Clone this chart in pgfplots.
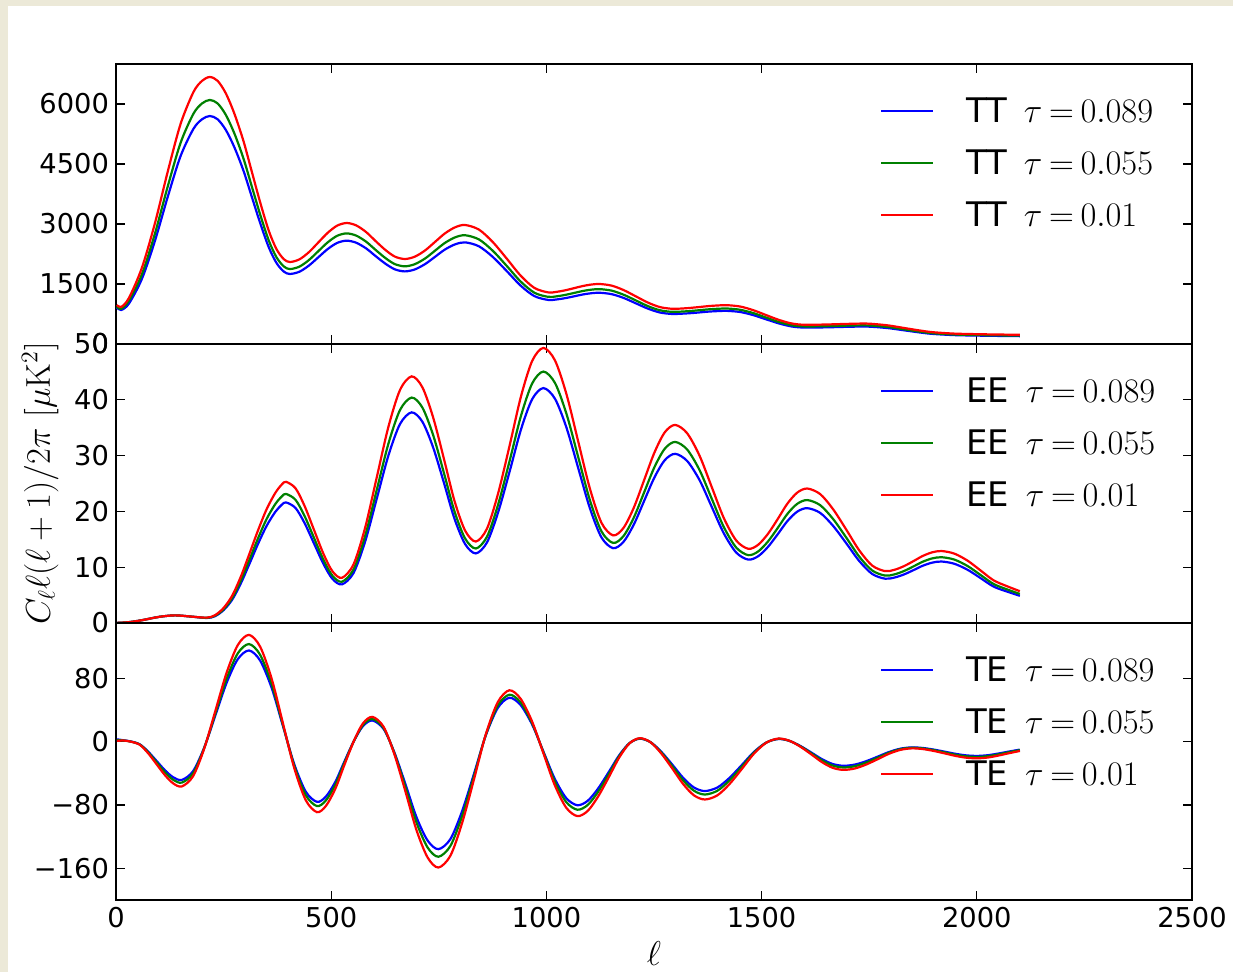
\documentclass[border=0pt]{standalone}
\usepackage[no-math]{fontspec}
\setmainfont{DejaVu Sans}
\usepackage{pgfplots}
\usepackage{pgfplotstable}
\pgfplotsset{compat=1.18}

\definecolor{mblue}{rgb}{0,0,1}
\definecolor{mgreen}{rgb}{0,0.5,0}
\definecolor{mred}{rgb}{1,0,0}
\definecolor{bgtex}{RGB}{236,233,216}

\pgfplotstableread{
l r g b
2 975 940 910
12 925 880 850
30 1150 1080 1010
60 1900 1737 1623
90 3000 2742 2562
120 4300 3931 3672
150 5500 5027 4697
180 6300 5759 5380
200 6580 6015 5619
218 6675 6101 5700
236 6580 6015 5619
255 6270 5731 5354
275 5760 5265 4919
296 5080 4644 4338
315 4330 3958 3698
335 3540 3236 3023
355 2830 2587 2417
373 2370 2166 2024
390 2120 1938 1810
404 2050 1874 1751
426 2115 1933 1806
448 2294 2097 1959
470 2538 2320 2167
492 2781 2542 2375
514 2960 2706 2528
536 3025 2765 2583
558 2965 2710 2532
581 2800 2559 2391
603 2575 2354 2199
626 2350 2148 2007
648 2185 1997 1866
671 2125 1942 1815
694 2182 1995 1863
718 2338 2137 1997
741 2550 2331 2178
764 2763 2526 2360
788 2918 2667 2492
811 2975 2719 2541
843 2862 2616 2444
875 2554 2335 2181
908 2133 1950 1822
940 1711 1564 1461
972 1403 1282 1198
1004 1290 1179 1102
1024 1304 1192 1114
1044 1343 1228 1147
1064 1395 1275 1191
1084 1448 1324 1237
1104 1486 1358 1269
1124 1500 1371 1281
1152 1458 1333 1245
1180 1345 1229 1149
1208 1190 1088 1016
1236 1035 946 884
1264 922 843 787
1292 880 804 751
1313 886 810 757
1335 903 825 771
1356 925 846 790
1377 948 867 810
1399 964 881 823
1420 970 887 828
1450 937 856 800
1480 848 775 724
1510 725 663 619
1540 603 551 515
1570 513 469 438
1600 480 439 410
1648 487 445 416
1697 502 459 429
1745 510 466 436
1790 470 430 401
1820 420 384 359
1860 350 320 299
1893 300 274 256
1930 270 247 231
1960 255 233 218
2030 240 219 205
2100 230 210 196
}\TTdata

\pgfplotstableread{
l r g b
2 0.02 0.02 0.02
30 0.15 0.15 0.15
60 0.5 0.5 0.5
100 1.1 1.1 1.1
137 1.37 1.37 1.37
175 1.15 1.15 1.15
211 0.96 0.93 0.90
230 1.4 1.30 1.22
250 2.7 2.47 2.31
270 4.9 4.48 4.18
290 8.3 7.59 7.09
310 12.4 11.33 10.59
330 16.6 15.17 14.18
350 20.4 18.65 17.42
370 23.3 21.30 19.90
385 24.8 22.67 21.18
395 25.3 23.13 21.61
417 24.15 22.08 20.62
438 21.0 19.20 17.93
460 16.7 15.27 14.26
482 12.4 11.33 10.59
503 9.25 8.46 7.90
525 8.1 7.40 6.92
552 10.52 9.62 8.98
579 17.13 15.66 14.63
606 26.15 23.90 22.33
633 35.18 32.16 30.04
660 41.78 38.19 35.68
687 44.2 40.40 37.75
712 42.22 38.59 36.05
737 36.8 33.64 31.43
762 29.4 26.87 25.11
786 22.0 20.11 18.79
811 16.58 15.16 14.16
836 14.6 13.35 12.47
862 16.92 15.47 14.45
888 23.28 21.28 19.88
915 31.95 29.20 27.28
941 40.63 37.14 34.70
967 46.98 42.94 40.12
993 49.3 45.06 42.10
1020 47.05 43.01 40.18
1047 40.9 37.39 34.93
1074 32.5 29.71 27.75
1101 24.1 22.03 20.58
1128 17.95 16.41 15.33
1155 15.7 14.35 13.41
1179 17.03 15.57 14.54
1203 20.65 18.88 17.63
1227 25.6 23.40 21.86
1251 30.55 27.93 26.09
1275 34.17 31.23 29.18
1299 35.5 32.45 30.32
1327 34.01 31.09 29.04
1356 29.95 27.38 25.58
1384 24.4 22.30 20.84
1412 18.85 17.23 16.10
1441 14.79 13.52 12.63
1469 13.3 12.16 11.36
1492 14.02 12.82 11.97
1515 16.0 14.63 13.66
1538 18.7 17.09 15.97
1560 21.4 19.56 18.27
1583 23.38 21.37 19.97
1606 24.1 22.03 20.58
1636 23.11 21.12 19.74
1666 20.4 18.65 17.42
1697 16.7 15.27 14.26
1727 13.0 11.88 11.10
1757 10.29 9.41 8.79
1787 9.3 8.50 7.94
1809 9.54 8.72 8.15
1831 10.2 9.32 8.71
1853 11.1 10.15 9.48
1874 12.0 10.97 10.25
1896 12.66 11.57 10.81
1918 12.9 11.79 11.02
1948 12.43 11.36 10.61
1979 11.15 10.19 9.52
2009 9.4 8.59 8.03
2039 7.65 6.99 6.53
2070 6.6 6.03 5.64
2100 5.7 5.21 4.87
}\EEdata

\pgfplotstableread{
l r g b
2 1 2 3
18 1.5 1.5 1.8
35 0 0.1 0.3
55 -3.79 -3.46 -3.24
74 -14.1 -12.89 -12.04
94 -28.25 -25.82 -24.12
114 -42.4 -38.76 -36.21
133 -52.7 -48.17 -45.00
153 -56.5 -51.65 -48.25
179 -43.67 -39.92 -37.29
205 -8.63 -7.89 -7.37
231 39.25 35.88 33.52
257 87.13 79.64 74.41
283 122.17 111.67 104.33
309 135 123.40 115.29
335 119.99 109.68 102.47
362 79 72.21 67.46
388 23 21.02 19.64
414 -33 -30.16 -28.18
441 -74.0 -67.64 -63.19
467 -89 -81.35 -76.00
488 -80.93 -73.98 -69.11
510 -58.9 -53.84 -50.30
531 -28.8 -26.33 -24.59
553 1.3 1.19 1.11
574 23.33 21.33 19.92
596 31.4 28.70 26.81
622 18.64 17.04 15.92
647 -16.2 -14.81 -13.83
673 -63.8 -58.32 -54.48
698 -111.4 -101.83 -95.13
724 -146.24 -133.67 -124.88
749 -159 -145.34 -135.78
777 -143.99 -131.62 -122.96
804 -103 -94.15 -87.96
832 -47 -42.96 -40.14
859 9 8.23 7.69
887 49.99 45.69 42.69
914 65 59.41 55.51
940 54.35 49.68 46.41
967 25.25 23.08 21.56
993 -14.5 -13.25 -12.38
1019 -54.25 -49.59 -46.33
1046 -83.35 -76.19 -71.18
1072 -94 -85.92 -80.27
1096 -87.4 -79.89 -74.64
1120 -69.38 -63.42 -59.25
1145 -44.75 -40.91 -38.21
1169 -20.13 -18.40 -17.19
1193 -2.1 -1.92 -1.79
1217 4.5 4.11 3.84
1242 -0.69 -0.63 -0.59
1267 -14.88 -13.60 -12.71
1293 -34.25 -31.31 -29.25
1318 -53.63 -49.02 -45.80
1343 -67.81 -61.98 -57.91
1368 -73 -66.73 -62.34
1397 -67.84 -62.01 -57.93
1425 -53.75 -49.13 -45.90
1454 -34.5 -31.54 -29.46
1482 -15.25 -13.94 -13.02
1511 -1.16 -1.06 -0.99
1539 4 3.66 3.42
1564 1.35 1.23 1.15
1589 -5.9 -5.39 -5.04
1615 -15.8 -14.44 -13.49
1640 -25.7 -23.49 -21.95
1665 -32.95 -30.12 -28.14
1690 -35.6 -32.54 -30.40
1717 -33.78 -30.88 -28.85
1743 -28.8 -26.33 -24.59
1770 -22.0 -20.11 -18.79
1796 -15.2 -13.89 -12.98
1823 -10.22 -9.34 -8.73
1849 -8.4 -7.68 -7.17
1874 -9.24 -8.45 -7.89
1899 -11.55 -10.56 -9.86
1925 -14.7 -13.44 -12.55
1950 -17.85 -16.32 -15.24
1975 -20.16 -18.43 -17.22
2000 -21 -19.20 -17.93
2025 -20.0 -18.28 -17.08
2050 -17.5 -16.00 -14.94
2075 -14.5 -13.25 -12.38
2100 -11.7 -10.69 -9.99
}\TEdata

\pgfplotsset{
  panel/.style={
    scale only axis, width=538bp, xmin=0, xmax=2500,
    xtick={0,500,...,2500},
    tick align=inside, major tick length=4.5bp,
    axis line style={line width=0.6bp},
    every tick/.style={black, line width=0.6bp},
    tick label style={font=\fontsize{13.7}{15}\selectfont},
    /pgf/number format/assume math mode=true,
    /pgf/number format/1000 sep={},
    scaled y ticks=false,
    clip=true,
    legend style={draw=none, fill=none, inner sep=0pt, outer sep=0pt,
      font=\fontsize{17}{20}\selectfont,
      at={(0.71,0.893)}, anchor=north west, row sep=9bp,
      nodes={inner sep=2bp, text height=12.5bp, text depth=0.5bp},
      /tikz/every odd column/.append style={column sep=14bp}},
    legend cell align=left,
    legend image code/.code={\draw[#1] (0bp,0bp) -- (26bp,0bp);},
    every axis plot/.append style={line width=1.1bp, smooth, tension=0.5, no markers},
  }
}
\newcommand{\tauval}[1]{$\tau\mkern-1.5mu=\mkern-1.5mu#1$}

\begin{document}
\begin{tikzpicture}
\path[use as bounding box] (0,0) rectangle (616.5bp,-486bp);
\fill[bgtex] (0,0) rectangle (616.5bp,-3bp);
\fill[bgtex] (0,0) rectangle (4bp,-486bp);

\begin{axis}[panel, at={(58bp,-32bp)}, anchor=north west, height=140bp,
  ymin=0, ymax=7000, ytick={0,1500,3000,4500,6000}, xticklabels={}]
\addplot[mblue] table[x=l,y=b] {\TTdata};
\addlegendentry{TT\hspace{0.5em}\tauval{0.089}}
\addplot[mgreen] table[x=l,y=g] {\TTdata};
\addlegendentry{TT\hspace{0.5em}\tauval{0.055}}
\addplot[mred] table[x=l,y=r] {\TTdata};
\addlegendentry{TT\hspace{0.5em}\tauval{0.01}}
\end{axis}

\begin{axis}[panel, at={(58bp,-172bp)}, anchor=north west, height=139.5bp,
  ymin=0, ymax=50, ytick={0,10,20,30,40,50}, xticklabels={},
  ylabel={$C_\ell\ell(\ell+1)/2\pi\ [\mu\mathrm{K}^2]$},
  ylabel style={at={(axis description cs:-0.0705,0.5)}, anchor=center,
    font=\fontsize{17}{19}\selectfont}]
\addplot[mblue] table[x=l,y=b] {\EEdata};
\addlegendentry{EE\hspace{0.5em}\tauval{0.089}}
\addplot[mgreen] table[x=l,y=g] {\EEdata};
\addlegendentry{EE\hspace{0.5em}\tauval{0.055}}
\addplot[mred] table[x=l,y=r] {\EEdata};
\addlegendentry{EE\hspace{0.5em}\tauval{0.01}}
\end{axis}

\begin{axis}[panel, at={(58bp,-311.5bp)}, anchor=north west, height=138.5bp,
  ymin=-200, ymax=150, ytick={-160,-80,0,80}, yticklabels={−160,−80,0,80},
  xlabel={$\ell$}, xlabel style={font=\fontsize{17}{19}\selectfont}]
\addplot[mblue] table[x=l,y=b] {\TEdata};
\addlegendentry{TE\hspace{0.5em}\tauval{0.089}}
\addplot[mgreen] table[x=l,y=g] {\TEdata};
\addlegendentry{TE\hspace{0.5em}\tauval{0.055}}
\addplot[mred] table[x=l,y=r] {\TEdata};
\addlegendentry{TE\hspace{0.5em}\tauval{0.01}}
\end{axis}
\end{tikzpicture}
\end{document}
